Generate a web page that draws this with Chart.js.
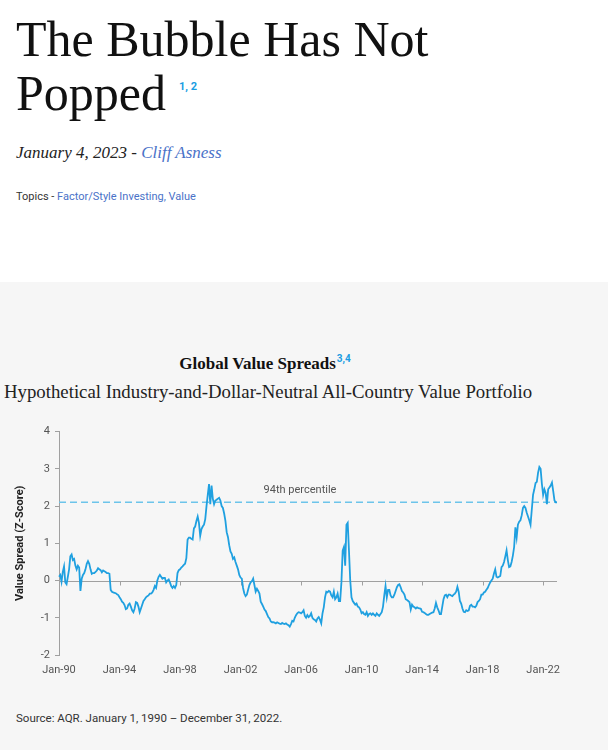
<!DOCTYPE html>
<html>
<head>
<meta charset="utf-8">
<script src="https://cdn.jsdelivr.net/npm/chart.js@4.4.1/dist/chart.umd.min.js"></script>
<style>
  html, body { margin: 0; padding: 0; }
  body { width: 608px; height: 750px; overflow: hidden; position: relative; background: #fff; font-family: Roboto, "Liberation Sans", sans-serif; }
  .serif { font-family: "Liberation Serif", "DejaVu Serif", serif; }
  #title { position: absolute; left: 16px; top: 12px; font-size: 50px; line-height: 54px; color: #111; font-weight: 400; }
  #title sup, .chart-head sup { font-family: Roboto, sans-serif; font-weight: 700; color: #1b9de2; }
  #title sup { font-size: 11px; position: relative; top: -20px; margin-left: 13px; vertical-align: baseline; }
  #byline { position: absolute; left: 16px; top: 143px; font-size: 17px; font-style: italic; color: #222; }
  #byline span { color: #4a72c8; }
  #topics { position: absolute; left: 16px; top: 190px; font-size: 11px; color: #333; }
  #topics span { color: #4a72c8; }
  #panel { position: absolute; left: 0; top: 282px; width: 608px; height: 468px; background: #f6f6f6; }
  #chartTitle { position: absolute; left: 0; width: 530px; text-align: center; top: 354px; font-size: 17px; font-weight: 700; color: #111; }
  #chartTitle sup { font-size: 10px; vertical-align: baseline; position: relative; top: -7px; margin-left: 1px; }
  #subtitle { position: absolute; left: 4px; top: 381px; font-size: 18.8px; color: #222; white-space: nowrap; }
  #source { position: absolute; left: 16px; top: 711px; font-size: 11.5px; color: #333; }
  #chartWrap { position: absolute; left: 0; top: 420px; width: 608px; height: 270px; }
</style>
</head>
<body>
<div id="title" class="serif">The Bubble Has Not<br>Popped<sup>1, 2</sup></div>
<div id="byline" class="serif">January 4, 2023 - <span>Cliff Asness</span></div>
<div id="topics">Topics - <span>Factor/Style Investing, Value</span></div>
<div id="panel"></div>
<div id="chartTitle" class="serif chart-head">Global Value Spreads<sup>3,4</sup></div>
<div id="subtitle" class="serif">Hypothetical Industry-and-Dollar-Neutral All-Country Value Portfolio</div>
<div id="chartWrap"><canvas id="spreadChart" width="608" height="270"></canvas></div>
<div id="source">Source: AQR. January 1, 1990 – December 31, 2022.</div>

<script>
// monthly value spread (z-score), Jan-90 .. Dec-22
const spread1990s = [
  0.10, 0.15, -0.03, 0.23, 0.38, -0.05, -0.10, 0.10, 0.30, 0.65, 0.70, 0.55,
  0.58, 0.40, 0.30, 0.40, 0.35, -0.28, 0.05, 0.15, 0.20, 0.30, 0.45, 0.52,
  0.45, 0.30, 0.18, 0.20, 0.20, 0.23, 0.27, 0.33, 0.30, 0.28, 0.22, 0.27,
  0.25, 0.23, 0.20, 0.20, 0.18, -0.25, -0.30, -0.32, -0.33, -0.34, -0.37, -0.39,
  -0.45, -0.50, -0.57, -0.60, -0.66, -0.77, -0.75, -0.65, -0.62, -0.70, -0.80, -0.85,
  -0.75, -0.58, -0.60, -0.70, -0.85, -0.75, -0.65, -0.55, -0.50, -0.45, -0.42, -0.40,
  -0.35, -0.35, -0.32, -0.25, -0.15, -0.20, 0.00, 0.10, 0.15, 0.10, 0.05, 0.07,
  0.07, -0.05, 0.00, 0.03, -0.05, -0.15, -0.20, -0.15, -0.20, -0.12, 0.20, 0.28,
  0.30, 0.35, 0.38, 0.42, 0.45, 0.60, 1.10, 1.15, 1.15, 1.12, 1.10, 1.40,
  1.45, 1.60, 1.72, 1.55, 1.20, 1.38, 1.45, 1.50, 1.65, 2.00, 2.30, 2.59
];
const spread2000s = [
  2.05, 2.55, 2.20, 2.05, 2.15, 2.17, 2.20, 2.22, 2.15, 2.00, 1.95, 1.80,
  1.60, 1.30, 1.17, 0.95, 0.78, 0.72, 0.58, 0.62, 0.50, 0.40, 0.30, 0.15,
  0.08, 0.05, -0.20, -0.35, -0.42, -0.38, -0.25, -0.12, -0.05, -0.02, 0.05, -0.12,
  -0.30, -0.22, -0.28, -0.35, -0.57, -0.63, -0.70, -0.78, -0.82, -0.90, -0.98, -1.02,
  -1.10, -1.12, -1.12, -1.13, -1.15, -1.12, -1.14, -1.16, -1.17, -1.14, -1.16, -1.17,
  -1.15, -1.18, -1.20, -1.24, -1.17, -1.08, -1.10, -1.00, -0.93, -0.88, -0.85, -0.86,
  -0.88, -0.85, -0.80, -0.95, -1.00, -0.93, -0.98, -0.95, -0.88, -1.00, -1.04, -1.06,
  -1.10, -1.02, -0.98, -1.05, -1.15, -0.88, -0.72, -0.45, -0.30, -0.32, -0.28, -0.30,
  -0.40, -0.45, -0.30, -0.50, -0.45, -0.35, -0.55, -0.55, -0.05, 0.80, 0.90, 0.40,
  1.50, 1.55, 0.80, 0.00, -0.45, -0.55, -0.60, -0.65, -0.62, -0.70, -0.72, -0.78
];
const spread2010s = [
  -0.88, -0.85, -0.90, -0.92, -0.85, -0.95, -0.90, -0.88, -0.92, -0.88, -0.92, -0.95,
  -0.88, -0.92, -0.95, -0.90, -0.85, -0.70, -0.40, -0.15, -0.45, -0.25, -0.25, -0.40,
  -0.45, -0.45, -0.38, -0.28, -0.18, -0.12, -0.10, -0.18, -0.28, -0.32, -0.38, -0.50,
  -0.52, -0.55, -0.58, -0.78, -0.65, -0.70, -0.72, -0.75, -0.72, -0.74, -0.75, -0.76,
  -0.84, -0.85, -0.87, -0.90, -0.92, -0.92, -0.90, -0.88, -0.86, -0.85, -0.75, -0.60,
  -0.72, -0.80, -0.90, -0.90, -0.70, -0.50, -0.40, -0.38, -0.45, -0.38, -0.38, -0.40,
  -0.42, -0.38, -0.35, -0.30, -0.17, -0.30, -0.55, -0.62, -0.75, -0.84, -0.85, -0.80,
  -0.82, -0.80, -0.68, -0.65, -0.70, -0.70, -0.72, -0.68, -0.58, -0.55, -0.50, -0.38,
  -0.38, -0.32, -0.30, -0.25, -0.20, -0.12, -0.05, 0.00, 0.05, 0.19, 0.30, 0.10,
  0.08, 0.10, 0.12, 0.36, 0.40, 0.50, 0.65, 0.81, 0.55, 0.36, 0.38, 0.50
];
const spread2020s = [
  0.67, 0.90, 1.43, 1.16, 1.50, 1.58, 1.62, 1.75, 1.95, 2.00, 1.95, 1.82,
  1.72, 1.62, 1.50, 1.90, 2.30, 2.45, 2.62, 2.65, 2.90, 3.05, 3.00, 2.60,
  2.30, 2.45, 2.35, 2.05, 2.45, 2.50, 2.55, 2.63, 2.40, 2.15, 2.10, 2.10
];

const percentile94 = 2.1;
const firstYear = 1990;
const monthNames = ["Jan", "Feb", "Mar", "Apr", "May", "Jun", "Jul", "Aug", "Sep", "Oct", "Nov", "Dec"];
const labelEvery = 48; // a tick label every 4 years
const yTicks = { min: -2, max: 4, step: 1 };

const spreads = [].concat(spread1990s, spread2000s, spread2010s, spread2020s);
const labels = spreads.map((_, i) => {
  const yr = firstYear + Math.floor(i / 12);
  return monthNames[i % 12] + "-" + String(yr).slice(2);
});

const BLUE = "#1fa0e0";
const AXIS = "#a0a0a0";

// zero line, small x tick marks on it, and the percentile caption
const axisExtras = {
  id: "axisExtras",
  beforeDatasetsDraw(chart) {
    const { ctx, chartArea: a, scales: { x, y } } = chart;
    const y0 = Math.round(y.getPixelForValue(0)) + 0.5;
    ctx.save();
    ctx.strokeStyle = AXIS;
    ctx.lineWidth = 1;
    ctx.beginPath();
    ctx.moveTo(a.left, y0);
    ctx.lineTo(a.right, y0);
    for (let i = labelEvery; i < labels.length; i += labelEvery) {
      const px = Math.round(x.getPixelForValue(i)) + 0.5;
      ctx.moveTo(px, y0);
      ctx.lineTo(px, y0 + 4);
    }
    ctx.stroke();
    ctx.restore();
  },
  afterDatasetsDraw(chart) {
    const { ctx, scales: { y } } = chart;
    ctx.save();
    ctx.font = "11px Roboto, sans-serif";
    ctx.fillStyle = "#555";
    ctx.textAlign = "center";
    ctx.textBaseline = "middle";
    ctx.fillText("94th percentile", 300, y.getPixelForValue(percentile94) - 12);
    ctx.restore();
  }
};

new Chart(document.getElementById("spreadChart"), {
  type: "line",
  data: {
    labels: labels,
    datasets: [
      {
        label: "Value Spread",
        data: spreads,
        borderColor: BLUE,
        borderWidth: 1.8,
        pointRadius: 0,
        tension: 0,
        order: 1
      },
      {
        label: "94th percentile",
        data: labels.map(() => percentile94),
        borderColor: "#6cc4ea",
        borderWidth: 1.5,
        borderDash: [7, 4],
        pointRadius: 0,
        order: 2
      }
    ]
  },
  options: {
    responsive: false,
    animation: false,
    layout: { padding: { top: 10, right: 51, left: 0, bottom: 0 } },
    plugins: { legend: { display: false }, tooltip: { enabled: false } },
    scales: {
      x: {
        type: "category",
        afterFit: s => { s.height = 35; },
        grid: { display: false, drawTicks: false },
        border: { display: false },
        ticks: {
          autoSkip: false,
          maxRotation: 0,
          padding: 9,
          color: "#555",
          font: { family: "Roboto, sans-serif", size: 11 },
          callback: function (val, i) { return i % labelEvery === 0 ? labels[i] : null; }
        }
      },
      y: {
        min: yTicks.min,
        max: yTicks.max,
        afterFit: s => { s.width = 59; },
        ticks: { stepSize: yTicks.step, padding: 5, color: "#555", font: { family: "Roboto, sans-serif", size: 11 } },
        grid: { drawOnChartArea: false, drawTicks: true, tickLength: 4, color: AXIS },
        border: { display: true, color: AXIS },
        title: {
          display: true,
          text: "Value Spread (Z-Score)",
          color: "#222",
          font: { family: "Roboto, sans-serif", size: 11, weight: "bold" },
          padding: { top: 14, bottom: 0 }
        }
      }
    }
  },
  plugins: [axisExtras]
});
</script>
</body>
</html>
